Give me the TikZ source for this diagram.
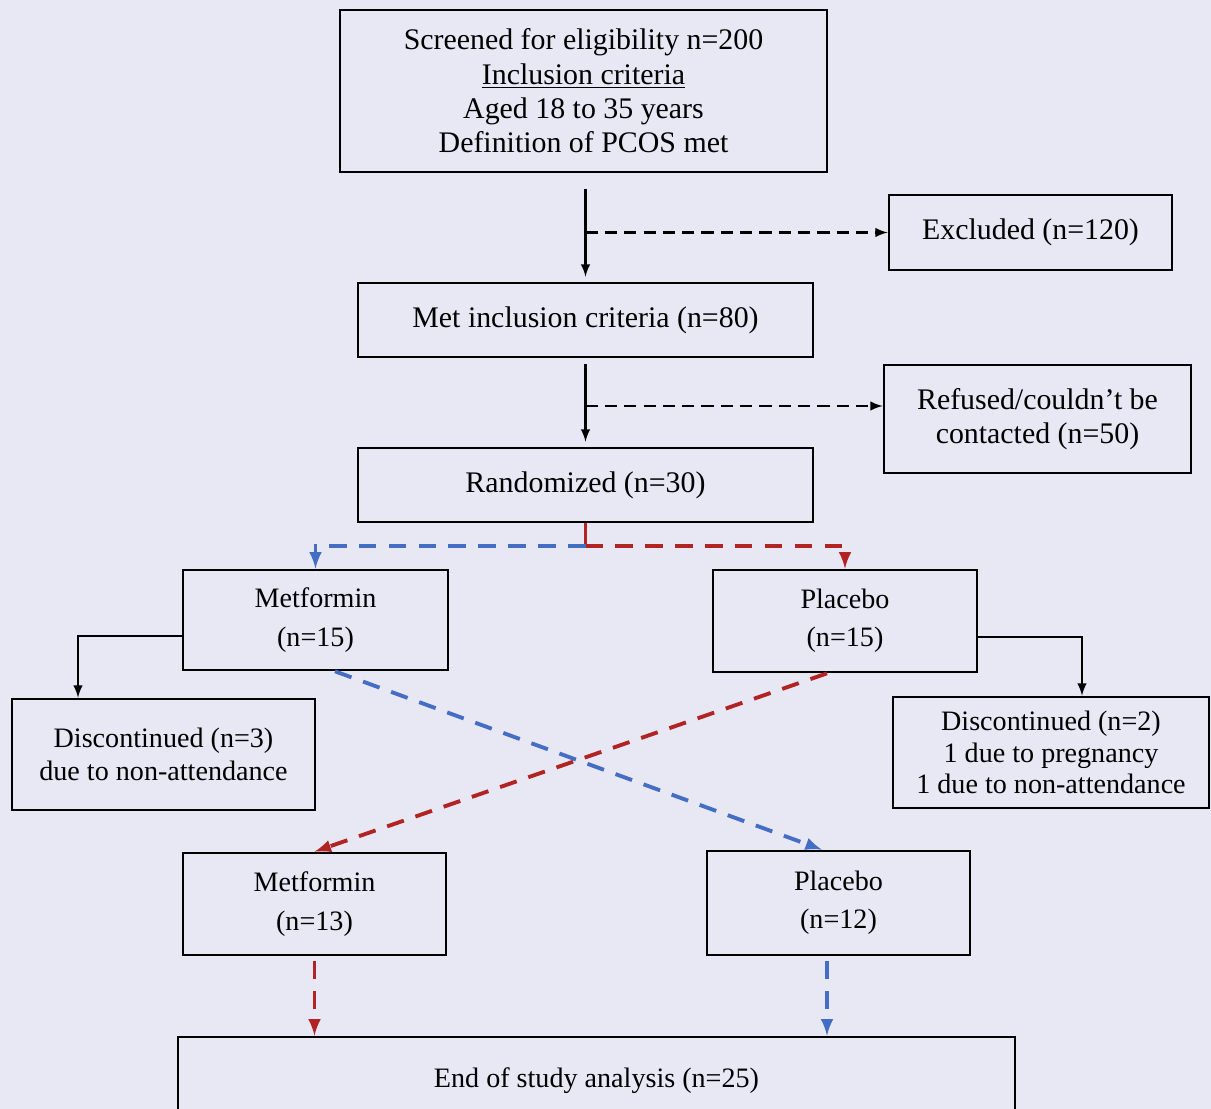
\documentclass[tikz,border=0pt]{standalone}
\usepackage{fontspec}
\setmainfont{Liberation Serif}
\usepackage{tikz}
\usetikzlibrary{shapes,arrows,positioning,calc}

\definecolor{paper}{RGB}{232,232,245}
\definecolor{armblue}{RGB}{68,110,196}
\definecolor{armred}{RGB}{178,36,36}

\begin{document}
\begin{tikzpicture}[
    box/.style={draw, line width=1.5pt, align=center, inner sep=2pt},
    bigtext/.style={font=\fontsize{17}{19.5}\selectfont},
    smalltext/.style={font=\fontsize{16}{17.8}\selectfont},
    flow/.style={-latex, line width=1.4pt},
    side/.style={-latex, line width=1.4pt, dash pattern=on 7pt off 4pt},
    bluedash/.style={-latex, armblue, line width=2.2pt, dash pattern=on 10pt off 7pt},
    reddash/.style={-latex, armred, line width=2.2pt, dash pattern=on 10pt off 7pt}
]
    % Page
    \useasboundingbox (0,0) rectangle (24.22,-22.18);
    \clip (0,0) rectangle (24.22,-22.18);
    \fill[paper] (0,0) rectangle (24.22,-22.18);

    % Enrolment column
    \node[box, bigtext, minimum width=9.74cm, minimum height=3.24cm] (screen) at (11.67,-1.82)
        {Screened for eligibility n=200\\\underline{Inclusion criteria}\\Aged 18 to 35 years\\Definition of PCOS met};
    \node[box, bigtext, minimum width=9.1cm, minimum height=1.48cm] (met) at (11.71,-6.40)
        {Met inclusion criteria (n=80)};
    \node[box, bigtext, minimum width=9.1cm, minimum height=1.48cm] (rand) at (11.71,-9.70)
        {Randomized (n=30)};

    % Drop-outs before randomisation
    \node[box, bigtext, minimum width=5.66cm, minimum height=1.5cm] (excl) at (20.61,-4.65)
        {Excluded (n=120)};
    \node[box, bigtext, minimum width=6.14cm, minimum height=2.16cm] (refused) at (20.75,-8.38)
        {Refused/couldn’t be\\contacted (n=50)};

    % First period
    \node[box, smalltext, minimum width=5.3cm, minimum height=2.0cm] (metA) at (6.31,-12.40)
        {Metformin\\[4pt](n=15)};
    \node[box, smalltext, minimum width=5.28cm, minimum height=2.04cm] (placA) at (16.90,-12.42)
        {Placebo\\[4pt](n=15)};
    \node[box, smalltext, minimum width=6.06cm, minimum height=2.22cm] (discA) at (3.27,-15.09)
        {Discontinued (n=3)\\[1pt]due to non-attendance};
    \node[box, smalltext, minimum width=6.32cm, minimum height=2.22cm] (discB) at (21.02,-15.05)
        {Discontinued (n=2)\\1 due to pregnancy\\1 due to non-attendance};

    % Second period (after crossover)
    \node[box, smalltext, minimum width=5.26cm, minimum height=2.04cm] (metB) at (6.29,-18.08)
        {Metformin\\[4pt](n=13)};
    \node[box, smalltext, minimum width=5.26cm, minimum height=2.08cm] (placB) at (16.77,-18.06)
        {Placebo\\[4pt](n=12)};
    \node[box, smalltext, minimum width=16.74cm, minimum height=1.76cm] (end) at (11.93,-21.62)
        {End of study analysis (n=25)};

    % Main flow
    \draw[flow, shorten <=0.32cm, shorten >=0.1cm] (screen.south -| met.north) -- (met.north);
    \draw[flow, shorten <=0.12cm, shorten >=0.1cm] (met.south) -- (rand.north);
    \draw[side] (excl.west -| met.north) -- (excl.west);
    \draw[side] ([yshift=0.26cm]refused.west -| rand.north) -- ([yshift=0.26cm]refused.west);

    % Allocation
    \coordinate (split) at ($(rand.south)+(0,-0.46)$);
    \draw[armred, line width=2.2pt] (rand.south) -- (split);
    \draw[bluedash] (split) -| (metA.north);
    \draw[reddash] (split) -| (placA.north);

    % Withdrawals
    \draw[flow] ([yshift=-0.32cm]metA.west) -| (discA.north -| 1.56,0);
    \draw[flow] ([yshift=-0.32cm]placA.east) -| (discB.north -| 21.64,0);

    % Crossover
    \draw[bluedash] ([xshift=0.39cm]metA.south) -- ([xshift=-0.33cm]placB.north);
    \draw[reddash] ([xshift=-0.36cm]placA.south) -- (metB.north);

    % Into the analysis
    \draw[reddash, shorten <=0.1cm] (metB.south) -- (metB.south |- end.north);
    \draw[bluedash, shorten <=0.1cm] ([xshift=-0.23cm]placB.south) -- ([xshift=-0.23cm]placB.south |- end.north);
\end{tikzpicture}
\end{document}
